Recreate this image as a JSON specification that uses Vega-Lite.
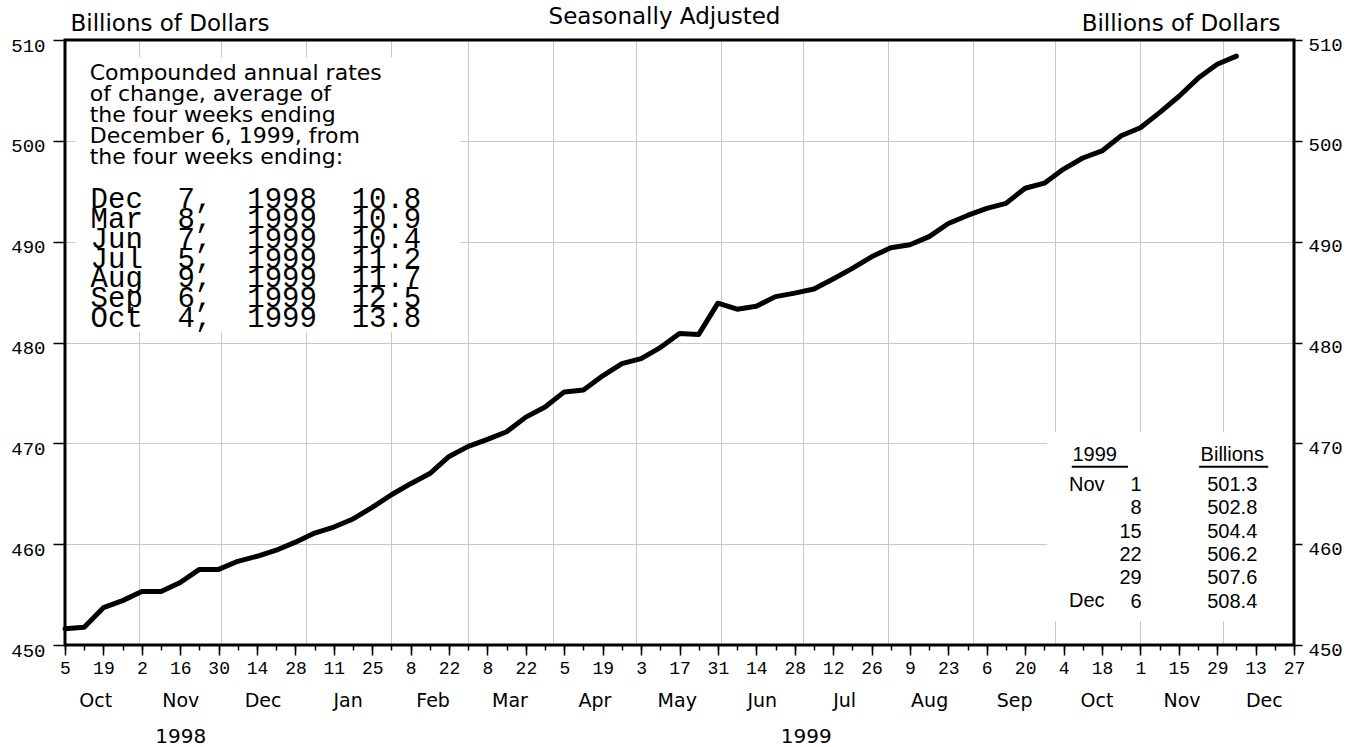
{
  "$schema": "https://vega.github.io/schema/vega-lite/v6.json",
  "width": 1229,
  "height": 605,
  "autosize": "none",
  "padding": {"left": 65, "top": 40, "right": 56, "bottom": 102},
  "background": "white",
  "config": {
    "view": {"stroke": null},
    "axis": {"domain": false, "labelColor": "black", "tickColor": "black", "gridColor": "#c8c8c8", "gridWidth": 1, "labelFlush": false, "labelOverlap": false, "labelBound": false, "titleColor": "black"}
  },
  "data": {"values": [
    {"date": "1998-10-05", "value": 451.6},
    {"date": "1998-10-12", "value": 451.75},
    {"date": "1998-10-19", "value": 453.7},
    {"date": "1998-10-26", "value": 454.4},
    {"date": "1998-11-02", "value": 455.3},
    {"date": "1998-11-09", "value": 455.3},
    {"date": "1998-11-16", "value": 456.2},
    {"date": "1998-11-23", "value": 457.5},
    {"date": "1998-11-30", "value": 457.5},
    {"date": "1998-12-07", "value": 458.3},
    {"date": "1998-12-14", "value": 458.8},
    {"date": "1998-12-21", "value": 459.4},
    {"date": "1998-12-28", "value": 460.2},
    {"date": "1999-01-04", "value": 461.1},
    {"date": "1999-01-11", "value": 461.7},
    {"date": "1999-01-18", "value": 462.5},
    {"date": "1999-01-25", "value": 463.65},
    {"date": "1999-02-01", "value": 464.9},
    {"date": "1999-02-08", "value": 466.0},
    {"date": "1999-02-15", "value": 467.0},
    {"date": "1999-02-22", "value": 468.7},
    {"date": "1999-03-01", "value": 469.7},
    {"date": "1999-03-08", "value": 470.4},
    {"date": "1999-03-15", "value": 471.15},
    {"date": "1999-03-22", "value": 472.6},
    {"date": "1999-03-29", "value": 473.6},
    {"date": "1999-04-05", "value": 475.1},
    {"date": "1999-04-12", "value": 475.3},
    {"date": "1999-04-19", "value": 476.7},
    {"date": "1999-04-26", "value": 477.9},
    {"date": "1999-05-03", "value": 478.4},
    {"date": "1999-05-10", "value": 479.5},
    {"date": "1999-05-17", "value": 480.9},
    {"date": "1999-05-24", "value": 480.8},
    {"date": "1999-05-31", "value": 483.9},
    {"date": "1999-06-07", "value": 483.3},
    {"date": "1999-06-14", "value": 483.6},
    {"date": "1999-06-21", "value": 484.55},
    {"date": "1999-06-28", "value": 484.9},
    {"date": "1999-07-05", "value": 485.3},
    {"date": "1999-07-12", "value": 486.3},
    {"date": "1999-07-19", "value": 487.35},
    {"date": "1999-07-26", "value": 488.5},
    {"date": "1999-08-02", "value": 489.4},
    {"date": "1999-08-09", "value": 489.7},
    {"date": "1999-08-16", "value": 490.5},
    {"date": "1999-08-23", "value": 491.8},
    {"date": "1999-08-30", "value": 492.6},
    {"date": "1999-09-06", "value": 493.3},
    {"date": "1999-09-13", "value": 493.8},
    {"date": "1999-09-20", "value": 495.3},
    {"date": "1999-09-27", "value": 495.8},
    {"date": "1999-10-04", "value": 497.2},
    {"date": "1999-10-11", "value": 498.3},
    {"date": "1999-10-18", "value": 499.0},
    {"date": "1999-10-25", "value": 500.5},
    {"date": "1999-11-01", "value": 501.3},
    {"date": "1999-11-08", "value": 502.8},
    {"date": "1999-11-15", "value": 504.4},
    {"date": "1999-11-22", "value": 506.2},
    {"date": "1999-11-29", "value": 507.6},
    {"date": "1999-12-06", "value": 508.4}
  ]},
  "layer": [
    {
      "data": {"values": [{}]},
      "mark": {"type": "rect", "fill": "white", "strokeWidth": 0},
      "encoding": {
        "x": {"datum": {"year": 1998, "month": 10, "date": 9, "utc": true}, "type": "temporal",
          "scale": {"type": "utc", "domain": [{"year": 1998, "month": 10, "date": 5, "utc": true}, {"year": 1999, "month": 12, "date": 27, "utc": true}], "nice": false},
          "axis": {"orient": "bottom", "title": null, "grid": true, "ticks": false, "tickSize": 0, "labels": false,
            "values": [{"year": 1998, "month": 11, "date": 1, "utc": true}, {"year": 1998, "month": 12, "date": 1, "utc": true}, {"year": 1999, "month": 1, "date": 1, "utc": true}, {"year": 1999, "month": 2, "date": 1, "utc": true}, {"year": 1999, "month": 3, "date": 1, "utc": true}, {"year": 1999, "month": 4, "date": 1, "utc": true}, {"year": 1999, "month": 5, "date": 1, "utc": true}, {"year": 1999, "month": 6, "date": 1, "utc": true}, {"year": 1999, "month": 7, "date": 1, "utc": true}, {"year": 1999, "month": 8, "date": 1, "utc": true}, {"year": 1999, "month": 9, "date": 1, "utc": true}, {"year": 1999, "month": 10, "date": 1, "utc": true}, {"year": 1999, "month": 11, "date": 1, "utc": true}, {"year": 1999, "month": 12, "date": 1, "utc": true}]}},
        "x2": {"datum": {"year": 1999, "month": 2, "date": 26, "utc": true}},
        "y": {"datum": 508.3, "type": "quantitative", "scale": {"domain": [450, 510], "nice": false, "zero": false},
          "axis": {"orient": "left", "values": [450, 460, 470, 480, 490, 500, 510], "grid": true, "ticks": true, "tickSize": 12, "tickWidth": 1.5,
            "labelPadding": 8, "labelOffset": 5, "labelFont": "Liberation Mono", "labelFontSize": 19, "labelBaseline": "middle",
            "title": "Billions of Dollars", "titleAngle": 0, "titleAlign": "left", "titleBaseline": "alphabetic", "titleX": 5, "titleY": -10,
            "titleFont": "DejaVu Sans", "titleFontSize": 23, "titleFontWeight": "normal"}},
        "y2": {"datum": 481.04}
      }
    },
    {
      "data": {"values": [{}]},
      "mark": {"type": "rect", "fill": "white", "strokeWidth": 0},
      "encoding": {
        "x": {"datum": {"year": 1999, "month": 9, "date": 28, "utc": true}, "type": "temporal",
          "scale": {"type": "utc", "domain": [{"year": 1998, "month": 10, "date": 5, "utc": true}, {"year": 1999, "month": 12, "date": 27, "utc": true}], "nice": false},
          "axis": {"orient": "bottom", "title": null, "grid": false, "ticks": true, "tickSize": 10, "tickWidth": 1.5, "labels": true,
            "labelPadding": 4, "labelFont": "Liberation Mono", "labelFontSize": 18, "labelBaseline": "top",
            "labelExpr": "utcFormat(datum.value, '%-d')",
            "values": [{"year": 1998, "month": 10, "date": 5, "utc": true}, {"year": 1998, "month": 10, "date": 19, "utc": true}, {"year": 1998, "month": 11, "date": 2, "utc": true}, {"year": 1998, "month": 11, "date": 16, "utc": true}, {"year": 1998, "month": 11, "date": 30, "utc": true}, {"year": 1998, "month": 12, "date": 14, "utc": true}, {"year": 1998, "month": 12, "date": 28, "utc": true}, {"year": 1999, "month": 1, "date": 11, "utc": true}, {"year": 1999, "month": 1, "date": 25, "utc": true}, {"year": 1999, "month": 2, "date": 8, "utc": true}, {"year": 1999, "month": 2, "date": 22, "utc": true}, {"year": 1999, "month": 3, "date": 8, "utc": true}, {"year": 1999, "month": 3, "date": 22, "utc": true}, {"year": 1999, "month": 4, "date": 5, "utc": true}, {"year": 1999, "month": 4, "date": 19, "utc": true}, {"year": 1999, "month": 5, "date": 3, "utc": true}, {"year": 1999, "month": 5, "date": 17, "utc": true}, {"year": 1999, "month": 5, "date": 31, "utc": true}, {"year": 1999, "month": 6, "date": 14, "utc": true}, {"year": 1999, "month": 6, "date": 28, "utc": true}, {"year": 1999, "month": 7, "date": 12, "utc": true}, {"year": 1999, "month": 7, "date": 26, "utc": true}, {"year": 1999, "month": 8, "date": 9, "utc": true}, {"year": 1999, "month": 8, "date": 23, "utc": true}, {"year": 1999, "month": 9, "date": 6, "utc": true}, {"year": 1999, "month": 9, "date": 20, "utc": true}, {"year": 1999, "month": 10, "date": 4, "utc": true}, {"year": 1999, "month": 10, "date": 18, "utc": true}, {"year": 1999, "month": 11, "date": 1, "utc": true}, {"year": 1999, "month": 11, "date": 15, "utc": true}, {"year": 1999, "month": 11, "date": 29, "utc": true}, {"year": 1999, "month": 12, "date": 13, "utc": true}, {"year": 1999, "month": 12, "date": 27, "utc": true}]}},
        "x2": {"datum": {"year": 1999, "month": 12, "date": 26, "hours": 12, "utc": true}},
        "y": {"datum": 471.12, "type": "quantitative", "scale": {"domain": [450, 510], "nice": false, "zero": false},
          "axis": {"orient": "right", "values": [450, 460, 470, 480, 490, 500, 510], "grid": false, "ticks": true, "tickSize": 8, "tickWidth": 1.5,
            "labelPadding": 6, "labelOffset": 4, "labelFont": "Liberation Mono", "labelFontSize": 19, "labelBaseline": "middle",
            "title": "Billions of Dollars", "titleAngle": 0, "titleAlign": "right", "titleBaseline": "alphabetic", "titleX": -14, "titleY": -10,
            "titleFont": "DejaVu Sans", "titleFontSize": 23, "titleFontWeight": "normal"}},
        "y2": {"datum": 452.38}
      }
    },
    {
      "data": {"values": [{}]},
      "mark": {"type": "rect", "filled": false, "stroke": "black", "strokeWidth": 3},
      "encoding": {
        "x": {"datum": {"year": 1998, "month": 10, "date": 5, "utc": true}, "type": "temporal",
          "scale": {"type": "utc", "domain": [{"year": 1998, "month": 10, "date": 5, "utc": true}, {"year": 1999, "month": 12, "date": 27, "utc": true}], "nice": false},
          "axis": {"orient": "bottom", "title": null, "grid": false, "ticks": true, "tickSize": 5, "tickWidth": 1.5, "labels": false,
            "values": [{"year": 1998, "month": 10, "date": 5, "utc": true}, {"year": 1998, "month": 10, "date": 12, "utc": true}, {"year": 1998, "month": 10, "date": 19, "utc": true}, {"year": 1998, "month": 10, "date": 26, "utc": true}, {"year": 1998, "month": 11, "date": 2, "utc": true}, {"year": 1998, "month": 11, "date": 9, "utc": true}, {"year": 1998, "month": 11, "date": 16, "utc": true}, {"year": 1998, "month": 11, "date": 23, "utc": true}, {"year": 1998, "month": 11, "date": 30, "utc": true}, {"year": 1998, "month": 12, "date": 7, "utc": true}, {"year": 1998, "month": 12, "date": 14, "utc": true}, {"year": 1998, "month": 12, "date": 21, "utc": true}, {"year": 1998, "month": 12, "date": 28, "utc": true},
              {"year": 1999, "month": 1, "date": 4, "utc": true}, {"year": 1999, "month": 1, "date": 11, "utc": true}, {"year": 1999, "month": 1, "date": 18, "utc": true}, {"year": 1999, "month": 1, "date": 25, "utc": true}, {"year": 1999, "month": 2, "date": 1, "utc": true}, {"year": 1999, "month": 2, "date": 8, "utc": true}, {"year": 1999, "month": 2, "date": 15, "utc": true}, {"year": 1999, "month": 2, "date": 22, "utc": true}, {"year": 1999, "month": 3, "date": 1, "utc": true}, {"year": 1999, "month": 3, "date": 8, "utc": true}, {"year": 1999, "month": 3, "date": 15, "utc": true}, {"year": 1999, "month": 3, "date": 22, "utc": true}, {"year": 1999, "month": 3, "date": 29, "utc": true}, {"year": 1999, "month": 4, "date": 5, "utc": true}, {"year": 1999, "month": 4, "date": 12, "utc": true}, {"year": 1999, "month": 4, "date": 19, "utc": true}, {"year": 1999, "month": 4, "date": 26, "utc": true}, {"year": 1999, "month": 5, "date": 3, "utc": true}, {"year": 1999, "month": 5, "date": 10, "utc": true}, {"year": 1999, "month": 5, "date": 17, "utc": true}, {"year": 1999, "month": 5, "date": 24, "utc": true}, {"year": 1999, "month": 5, "date": 31, "utc": true}, {"year": 1999, "month": 6, "date": 7, "utc": true}, {"year": 1999, "month": 6, "date": 14, "utc": true}, {"year": 1999, "month": 6, "date": 21, "utc": true}, {"year": 1999, "month": 6, "date": 28, "utc": true}, {"year": 1999, "month": 7, "date": 5, "utc": true}, {"year": 1999, "month": 7, "date": 12, "utc": true}, {"year": 1999, "month": 7, "date": 19, "utc": true}, {"year": 1999, "month": 7, "date": 26, "utc": true}, {"year": 1999, "month": 8, "date": 2, "utc": true}, {"year": 1999, "month": 8, "date": 9, "utc": true}, {"year": 1999, "month": 8, "date": 16, "utc": true}, {"year": 1999, "month": 8, "date": 23, "utc": true}, {"year": 1999, "month": 8, "date": 30, "utc": true}, {"year": 1999, "month": 9, "date": 6, "utc": true}, {"year": 1999, "month": 9, "date": 13, "utc": true}, {"year": 1999, "month": 9, "date": 20, "utc": true}, {"year": 1999, "month": 9, "date": 27, "utc": true}, {"year": 1999, "month": 10, "date": 4, "utc": true}, {"year": 1999, "month": 10, "date": 11, "utc": true}, {"year": 1999, "month": 10, "date": 18, "utc": true}, {"year": 1999, "month": 10, "date": 25, "utc": true}, {"year": 1999, "month": 11, "date": 1, "utc": true}, {"year": 1999, "month": 11, "date": 8, "utc": true}, {"year": 1999, "month": 11, "date": 15, "utc": true}, {"year": 1999, "month": 11, "date": 22, "utc": true}, {"year": 1999, "month": 11, "date": 29, "utc": true}, {"year": 1999, "month": 12, "date": 6, "utc": true}, {"year": 1999, "month": 12, "date": 13, "utc": true}, {"year": 1999, "month": 12, "date": 20, "utc": true}, {"year": 1999, "month": 12, "date": 27, "utc": true}]}},
        "x2": {"datum": {"year": 1999, "month": 12, "date": 27, "utc": true}},
        "y": {"datum": 450, "type": "quantitative", "scale": {"domain": [450, 510], "nice": false, "zero": false}, "axis": null},
        "y2": {"datum": 510}
      }
    },
    {
      "mark": {"type": "line", "color": "black", "strokeWidth": 5, "strokeCap": "round", "strokeJoin": "round"},
      "encoding": {
        "x": {"field": "date", "type": "temporal",
          "scale": {"type": "utc", "domain": [{"year": 1998, "month": 10, "date": 5, "utc": true}, {"year": 1999, "month": 12, "date": 27, "utc": true}], "nice": false},
          "axis": {"orient": "bottom", "title": null, "grid": false, "ticks": false, "tickSize": 0, "labels": true,
            "labelPadding": 46, "labelFont": "DejaVu Sans", "labelFontSize": 19, "labelBaseline": "top",
            "labelExpr": "utcFormat(datum.value, '%b')",
            "values": [{"year": 1998, "month": 10, "date": 16, "utc": true}, {"year": 1998, "month": 11, "date": 16, "utc": true}, {"year": 1998, "month": 12, "date": 16, "utc": true}, {"year": 1999, "month": 1, "date": 16, "utc": true}, {"year": 1999, "month": 2, "date": 16, "utc": true}, {"year": 1999, "month": 3, "date": 16, "utc": true}, {"year": 1999, "month": 4, "date": 16, "utc": true}, {"year": 1999, "month": 5, "date": 16, "utc": true}, {"year": 1999, "month": 6, "date": 16, "utc": true}, {"year": 1999, "month": 7, "date": 16, "utc": true}, {"year": 1999, "month": 8, "date": 16, "utc": true}, {"year": 1999, "month": 9, "date": 16, "utc": true}, {"year": 1999, "month": 10, "date": 16, "utc": true}, {"year": 1999, "month": 11, "date": 16, "utc": true}, {"year": 1999, "month": 12, "date": 16, "utc": true}]}},
        "y": {"field": "value", "type": "quantitative", "scale": {"domain": [450, 510], "nice": false, "zero": false}, "axis": null}
      }
    },
    {
      "data": {"values": [{}]},
      "mark": {"type": "text", "align": "left", "baseline": "alphabetic", "font": "DejaVu Sans", "fontSize": 22, "lineHeight": 21, "color": "black",
        "text": ["Compounded annual rates", "of change, average of", "the four weeks ending", "December 6, 1999, from", "the four weeks ending:"]},
      "encoding": {
        "x": {"datum": {"year": 1998, "month": 10, "date": 14, "utc": true}, "type": "temporal",
          "scale": {"type": "utc", "domain": [{"year": 1998, "month": 10, "date": 5, "utc": true}, {"year": 1999, "month": 12, "date": 27, "utc": true}], "nice": false},
          "axis": {"orient": "bottom", "title": null, "grid": false, "ticks": false, "tickSize": 0, "labels": true,
            "labelPadding": 81, "labelFont": "DejaVu Sans", "labelFontSize": 20, "labelBaseline": "top",
            "labelExpr": "utcFormat(datum.value, '%Y')",
            "values": [{"year": 1998, "month": 11, "date": 16, "utc": true}, {"year": 1999, "month": 7, "date": 2, "utc": true}]}},
        "y": {"datum": 506.03, "type": "quantitative", "scale": {"domain": [450, 510], "nice": false, "zero": false}, "axis": null}
      }
    },
    {
      "data": {"values": [{}]},
      "mark": {"type": "text", "align": "left", "baseline": "alphabetic", "font": "Liberation Mono", "fontSize": 29, "lineHeight": 19.8, "color": "black",
        "text": ["Dec\u00a0\u00a07,\u00a0\u00a01998\u00a0\u00a010.8", "Mar\u00a0\u00a08,\u00a0\u00a01999\u00a0\u00a010.9", "Jun\u00a0\u00a07,\u00a0\u00a01999\u00a0\u00a010.4", "Jul\u00a0\u00a05,\u00a0\u00a01999\u00a0\u00a011.2", "Aug\u00a0\u00a09,\u00a0\u00a01999\u00a0\u00a011.7", "Sep\u00a0\u00a06,\u00a0\u00a01999\u00a0\u00a012.5", "Oct\u00a0\u00a04,\u00a0\u00a01999\u00a0\u00a013.8"]},
      "encoding": {
        "x": {"datum": {"year": 1998, "month": 10, "date": 14, "hours": 8, "utc": true}, "type": "temporal",
          "scale": {"type": "utc", "domain": [{"year": 1998, "month": 10, "date": 5, "utc": true}, {"year": 1999, "month": 12, "date": 27, "utc": true}], "nice": false},
          "axis": {"orient": "top", "title": "Seasonally Adjusted", "grid": false, "ticks": false, "tickSize": 0, "labels": false,
            "titleX": 599, "titleY": -17, "titleAlign": "center", "titleBaseline": "alphabetic", "titleAngle": 0,
            "titleFont": "DejaVu Sans", "titleFontSize": 23, "titleFontWeight": "normal"}},
        "y": {"datum": 493.31, "type": "quantitative", "axis": null}
      }
    },
    {
      "data": {"values": [{}]},
      "mark": {"type": "text", "align": "left", "baseline": "alphabetic", "font": "Liberation Sans", "fontSize": 20, "color": "black", "text": "1999"},
      "encoding": {
        "x": {"datum": {"year": 1999, "month": 10, "date": 7, "hours": 6, "utc": true}, "type": "temporal", "axis": null},
        "y": {"datum": 468.28, "type": "quantitative", "axis": null}
      }
    },
    {
      "data": {"values": [{}]},
      "mark": {"type": "text", "align": "center", "baseline": "alphabetic", "font": "Liberation Sans", "fontSize": 20, "color": "black", "text": "Billions"},
      "encoding": {
        "x": {"datum": {"year": 1999, "month": 12, "date": 4, "hours": 12, "utc": true}, "type": "temporal", "axis": null},
        "y": {"datum": 468.28, "type": "quantitative", "axis": null}
      }
    },
    {
      "data": {"values": [{}]},
      "mark": {"type": "rule", "color": "black", "strokeWidth": 2},
      "encoding": {
        "x": {"datum": {"year": 1999, "month": 10, "date": 7, "utc": true}, "type": "temporal", "axis": null},
        "x2": {"datum": {"year": 1999, "month": 10, "date": 27, "hours": 12, "utc": true}},
        "y": {"datum": 467.68, "type": "quantitative", "axis": null}
      }
    },
    {
      "data": {"values": [{}]},
      "mark": {"type": "rule", "color": "black", "strokeWidth": 2},
      "encoding": {
        "x": {"datum": {"year": 1999, "month": 11, "date": 22, "hours": 10, "utc": true}, "type": "temporal", "axis": null},
        "x2": {"datum": {"year": 1999, "month": 12, "date": 17, "hours": 14, "utc": true}},
        "y": {"datum": 467.68, "type": "quantitative", "axis": null}
      }
    },
    {
      "data": {"values": [{}]},
      "mark": {"type": "text", "align": "left", "baseline": "alphabetic", "font": "Liberation Sans", "fontSize": 20, "color": "black", "text": "Nov"},
      "encoding": {
        "x": {"datum": {"year": 1999, "month": 10, "date": 6, "utc": true}, "type": "temporal", "axis": null},
        "y": {"datum": 465.27, "type": "quantitative", "axis": null}
      }
    },
    {
      "data": {"values": [{}]},
      "mark": {"type": "text", "align": "left", "baseline": "alphabetic", "font": "Liberation Sans", "fontSize": 20, "color": "black", "text": "Dec"},
      "encoding": {
        "x": {"datum": {"year": 1999, "month": 10, "date": 6, "utc": true}, "type": "temporal", "axis": null},
        "y": {"datum": 453.72, "type": "quantitative", "axis": null}
      }
    },
    {
      "data": {"values": [{}]},
      "mark": {"type": "text", "align": "right", "baseline": "alphabetic", "font": "Liberation Sans", "fontSize": 20, "lineHeight": 23.3, "color": "black",
        "text": ["1", "8", "15", "22", "29", "6"]},
      "encoding": {
        "x": {"datum": {"year": 1999, "month": 11, "date": 1, "hours": 12, "utc": true}, "type": "temporal", "axis": null},
        "y": {"datum": 465.27, "type": "quantitative", "axis": null}
      }
    },
    {
      "data": {"values": [{}]},
      "mark": {"type": "text", "align": "center", "baseline": "alphabetic", "font": "Liberation Sans", "fontSize": 20, "lineHeight": 23.3, "color": "black",
        "text": ["501.3", "502.8", "504.4", "506.2", "507.6", "508.4"]},
      "encoding": {
        "x": {"datum": {"year": 1999, "month": 12, "date": 4, "hours": 12, "utc": true}, "type": "temporal", "axis": null},
        "y": {"datum": 465.27, "type": "quantitative", "axis": null}
      }
    }
  ],
  "resolve": {"axis": {"x": "independent", "y": "independent"}}
}
